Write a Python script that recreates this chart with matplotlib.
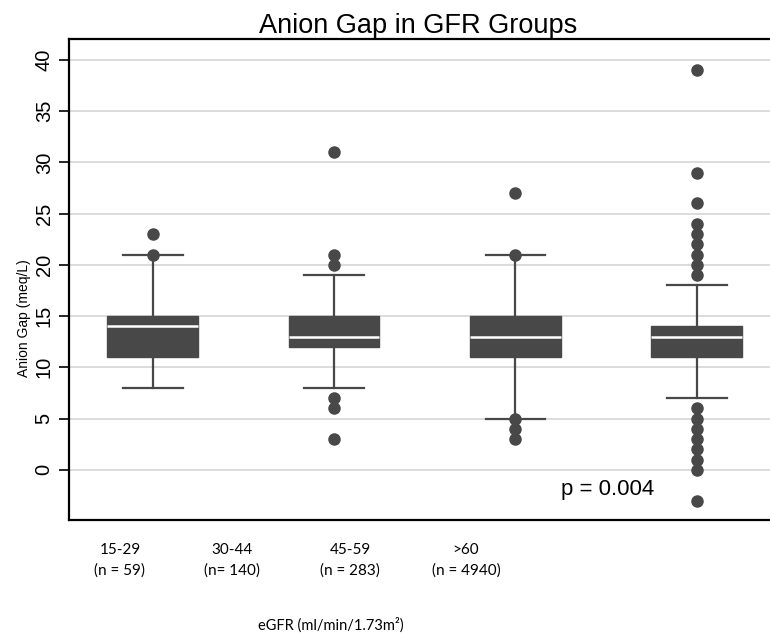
import matplotlib
matplotlib.use("Agg")
import matplotlib.pyplot as plt

# box statistics (meq/L)
groups = ["15-29", "30-44", "45-59", ">60"]
counts = ["(n = 59)", "(n= 140)", "(n = 283)", "(n = 4940)"]
q1 = [11, 12, 11, 11]
med = [14, 13, 13, 13]
q3 = [15, 15, 15, 14]
whislo = [8, 8, 5, 7]
whishi = [21, 19, 21, 18]
fliers = [
    [21, 23],
    [20, 21, 31, 7, 6, 3],
    [21, 27, 5, 4, 3],
    [19, 20, 21, 22, 23, 24, 26, 29, 39, 6, 5, 4, 3, 2, 1, 0, -3],
]
yticks = list(range(0, 45, 5))
p_text = "p = 0.004"

W, H = 770, 637
fig = plt.figure(figsize=(W / 100, H / 100), dpi=100)
ax = fig.add_axes([69 / W, 1 - 520 / H, 1 - 69 / W, 481 / H])

dark = "#484848"
arial = ["Liberation Sans", "DejaVu Sans"]
calibri = ["Lato", "DejaVu Sans"]

stats = []
for i in range(len(groups)):
    stats.append(dict(q1=q1[i], med=med[i], q3=q3[i], whislo=whislo[i],
                      whishi=whishi[i], fliers=fliers[i], label=groups[i]))

ax.bxp(stats, positions=[1, 2, 3, 4], widths=0.5, capwidths=0.33,
       patch_artist=True, showfliers=True,
       boxprops=dict(facecolor=dark, edgecolor=dark, linewidth=1),
       medianprops=dict(color="white", linewidth=1.8),
       whiskerprops=dict(color=dark, linewidth=1.6),
       capprops=dict(color=dark, linewidth=1.6),
       flierprops=dict(marker="o", markerfacecolor=dark, markeredgecolor=dark,
                       markersize=8))

ax.set_xlim(0.538, 4.404)
ax.set_ylim(-4.9, 42.05)
ax.set_xticks([])
ax.set_yticks(yticks)
ax.set_yticklabels([str(v) for v in yticks], rotation=90, va="center",
                   fontsize=14.5, family=arial)
ax.tick_params(axis="y", length=7, width=1.2, pad=4)
ax.grid(axis="y", color="#d9d9d9", linewidth=1.3)
ax.set_axisbelow(True)

for s in ["left", "bottom", "top"]:
    ax.spines[s].set_linewidth(1.6)
ax.spines["right"].set_visible(False)

ax.text(3.51, -1.95, p_text, ha="center", va="center", fontsize=16, family=arial)

fig.text(418 / W, 1 - 33 / H, "Anion Gap in GFR Groups", ha="center",
         va="baseline", fontsize=19.5, family=arial)
fig.text(24 / W, 1 - 318 / H, "Anion Gap (meq/L)", rotation=90, ha="center",
         va="center", fontsize=10, family=arial)

label_x = [120, 232, 350, 466]
for i in range(len(groups)):
    fig.text(label_x[i] / W, 1 - 560 / H, groups[i] + "\n" + counts[i],
             ha="center", va="center", multialignment="center",
             fontsize=11, linespacing=1.55, family=calibri)
fig.text(331 / W, 1 - 625 / H, "eGFR (ml/min/1.73m\u00b2)", ha="center",
         va="center", fontsize=10.5, family=calibri)

fig.savefig("out.png", dpi=100)
